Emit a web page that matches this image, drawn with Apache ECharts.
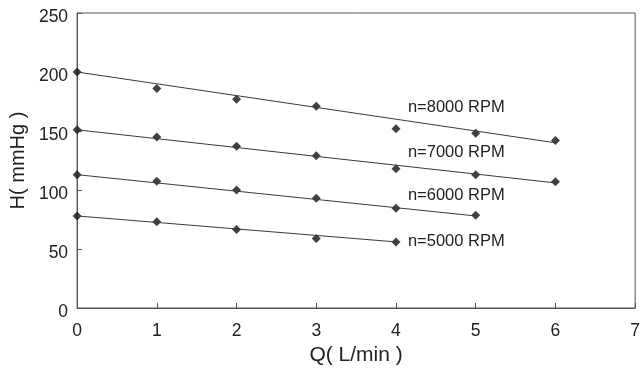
<!DOCTYPE html>
<html>
<head>
<meta charset="utf-8">
<script src="https://cdn.jsdelivr.net/npm/echarts@6/dist/echarts.min.js"></script>
<style>html,body{margin:0;padding:0;background:#fff}#c{width:643px;height:371px}</style>
</head>
<body>
<div id="c"></div>
<script>
const xTicks = [0, 1, 2, 3, 4, 5, 6, 7];
const yTicks = [0, 50, 100, 150, 200, 250];
const seriesNames = ['n=8000 RPM', 'n=7000 RPM', 'n=6000 RPM', 'n=5000 RPM'];
const q8000 = [0, 1, 2, 3, 4, 5, 6];
const h8000 = [200, 186, 177, 171, 152, 148, 142];
const q7000 = [0, 1, 2, 3, 4, 5, 6];
const h7000 = [151, 145, 137, 129, 118, 113, 107];
const q6000 = [0, 1, 2, 3, 4, 5];
const h6000 = [113, 107.5, 100, 93, 84.5, 78.5];
const q5000 = [0, 1, 2, 3, 4];
const h5000 = [78, 73, 66.5, 59, 56];
// fitted straight lines: [qStart, hStart, qEnd, hEnd]
const fit8000 = [0, 200, 6, 140];
const fit7000 = [0, 151, 6, 106];
const fit6000 = [0, 113, 5, 78];
const fit5000 = [0, 78, 4, 56];

const pts = (q, h) => q.map((v, i) => [v, h[i]]);
const fitLine = f => [[f[0], f[1]], [f[2], f[3]]];

const labelPos = [[4.15, 170], [4.15, 131.5], [4.15, 95.5], [4.15, 56]];
const groups = [
  [q8000, h8000, fit8000],
  [q7000, h7000, fit7000],
  [q6000, h6000, fit6000],
  [q5000, h5000, fit5000]
];

const FONT = 'Liberation Sans';
const series = [];
groups.forEach((g, i) => {
  series.push({
    type: 'line', name: seriesNames[i] + ' fit', data: fitLine(g[2]),
    showSymbol: false, symbol: 'none', silent: true,
    lineStyle: { color: '#3a3a3a', width: 1 },
    markPoint: {
      symbol: 'circle', symbolSize: 0,
      data: [{ coord: labelPos[i], value: seriesNames[i] }],
      label: { show: true, position: 'right', distance: 0, formatter: seriesNames[i],
        color: '#222', fontSize: 16.5, fontFamily: FONT }
    }
  });
  series.push({
    type: 'scatter', name: seriesNames[i], data: pts(g[0], g[1]),
    symbol: 'diamond', symbolSize: 9,
    itemStyle: { color: '#111' }
  });
});

const chart = echarts.init(document.getElementById('c'), null, { renderer: 'canvas' });
chart.setOption({
  animation: false,
  backgroundColor: '#fff',
  grid: { left: 77, right: 6, top: 13, bottom: 61, show: true, borderColor: '#555', borderWidth: 1 },
  xAxis: {
    type: 'value', min: xTicks[0], max: xTicks[xTicks.length - 1], interval: 1,
    name: 'Q( L/min )', nameLocation: 'middle', nameGap: 37,
    nameTextStyle: { fontSize: 21, color: '#222', fontFamily: FONT },
    axisLine: { lineStyle: { color: '#555' } },
    axisTick: { inside: true, length: 5, lineStyle: { color: '#555' } },
    axisLabel: { fontSize: 17.5, color: '#222', fontFamily: FONT, margin: 14 },
    splitLine: { show: false }
  },
  yAxis: {
    type: 'value', min: yTicks[0], max: yTicks[yTicks.length - 1], interval: 50,
    name: 'H( mmHg )', nameLocation: 'middle', nameGap: 46, nameRotate: 90,
    nameTextStyle: { fontSize: 20, color: '#222', fontFamily: FONT },
    axisLine: { show: true, lineStyle: { color: '#555' } },
    axisTick: { show: true, inside: true, length: 5, lineStyle: { color: '#555' } },
    axisLabel: { fontSize: 17.5, color: '#222', fontFamily: FONT, margin: 9,
      verticalAlign: 'top', lineHeight: 9 },
    splitLine: { show: false }
  },
  series: series
});
</script>
</body>
</html>
